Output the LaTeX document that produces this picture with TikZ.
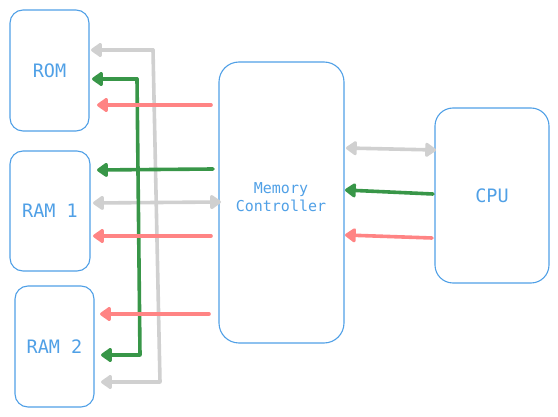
\documentclass[tikz,border=0pt]{standalone}
\usepackage{fontspec}
\setmonofont{DejaVu Sans Mono}
\usetikzlibrary{arrows.meta}
\definecolor{bl}{RGB}{80,160,230}
\definecolor{gr}{RGB}{208,208,208}
\definecolor{gn}{RGB}{56,150,72}
\definecolor{rd}{RGB}{255,132,132}
\tikzset{
  box/.style={draw=bl, line width=1.1pt, rounded corners=13pt, text=bl, font=\ttfamily\fontsize{18.5}{20}\selectfont, align=center, inner sep=0pt},
  lbl/.style={text=bl, align=center, inner sep=0pt},
  arr/.style={line width=3.6pt, line join=round, line cap=round, -{Triangle[length=12pt,width=16pt,round]}},
  darr/.style={line width=3.6pt, line join=round, line cap=round, {Triangle[length=12pt,width=16pt,round]}-{Triangle[length=12pt,width=16pt,round]}},
}
\begin{document}
\begin{tikzpicture}[x=1pt,y=-1pt]
\useasboundingbox (0,0) rectangle (558,417);
\node[box, minimum width=79pt, minimum height=121pt] (rom) at (49.5,70.5) {ROM};
\node[box, minimum width=80pt, minimum height=120pt] (ram1) at (50,211) {RAM 1};
\node[box, minimum width=79pt, minimum height=121pt] (ram2) at (54.5,346.5) {\raisebox{-1.5pt}{RAM 2}};
\node[box, rounded corners=20pt, minimum width=125pt, minimum height=281pt] (mc) at (281.5,202.5) {};
\node[lbl, font=\ttfamily\fontsize{15}{18}\selectfont] (mclabel) at (281,197) {Memory\\Controller};
\node[box, rounded corners=18pt, minimum width=114pt, minimum height=175pt] (cpu) at (492,195.5) {\raisebox{-2pt}{CPU}};
% coordinates
\coordinate (gTopT) at (91,50);
\coordinate (gTopC) at (153,50);
\coordinate (gBotC) at (160,382);
\coordinate (gBotT) at (101,382);
\coordinate (nTopT) at (92,79);
\coordinate (nTopC) at (137,79);
\coordinate (nBotC) at (140,355);
\coordinate (nBotT) at (101,355);
\coordinate (nR1s) at (213,169);
\coordinate (nR1t) at (97,170);
\coordinate (nCs) at (433,194);
\coordinate (nCt) at (345,190);
\coordinate (rRs) at (211,105);
\coordinate (rRt) at (97,105);
\coordinate (r1s) at (211,236);
\coordinate (r1t) at (93,236);
\coordinate (r2s) at (209,314);
\coordinate (r2t) at (100,314);
\coordinate (rCs) at (432,238);
\coordinate (rCt) at (345,235);
\coordinate (g1a) at (93,203);
\coordinate (g1b) at (221,202);
\coordinate (gCa) at (346,148);
\coordinate (gCb) at (436,150);
% gray
\draw[arr, gr] (gTopC) -- (gTopT);
\draw[arr, gr] (gTopC) -- (gBotC) -- (gBotT);
\draw[darr, gr] (g1a) -- (g1b);
\draw[darr, gr] (gCa) -- (gCb);
% green
\draw[arr, gn] (nTopC) -- (nTopT);
\draw[arr, gn] (nTopC) -- (nBotC) -- (nBotT);
\draw[arr, gn] (nR1s) -- (nR1t);
\draw[arr, gn] (nCs) -- (nCt);
% red
\draw[arr, rd] (rRs) -- (rRt);
\draw[arr, rd] (r1s) -- (r1t);
\draw[arr, rd] (r2s) -- (r2t);
\draw[arr, rd] (rCs) -- (rCt);
\end{tikzpicture}
\end{document}
